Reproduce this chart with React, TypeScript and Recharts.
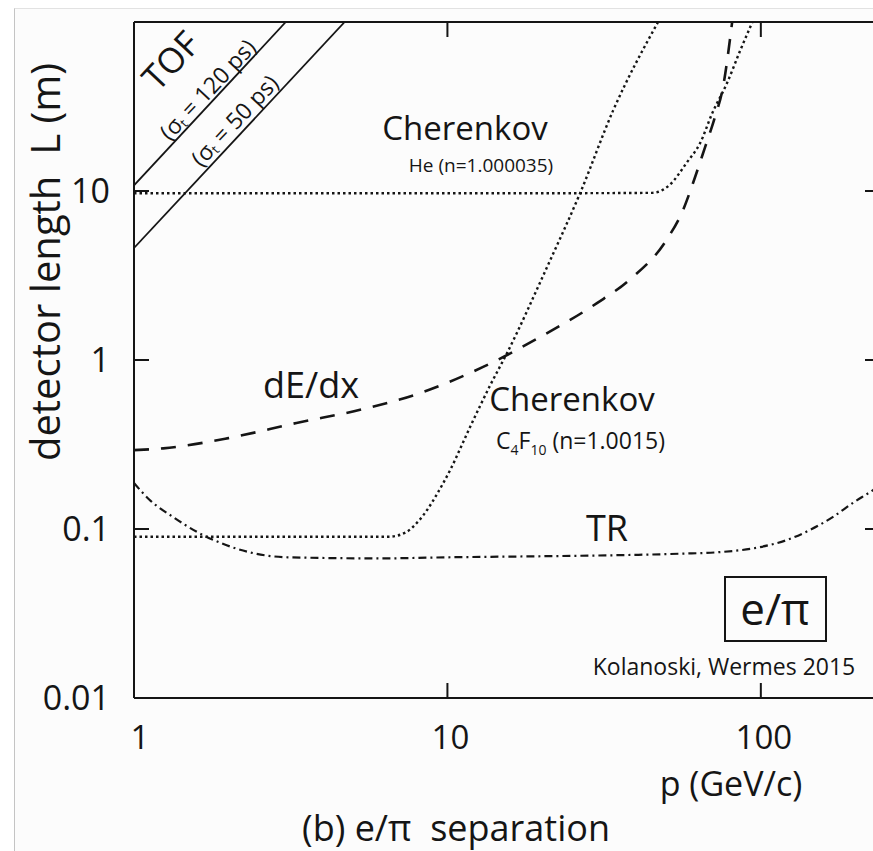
import { LineChart, Line, XAxis, YAxis, ReferenceLine } from 'recharts'

// momentum p (GeV/c) and detector length L (m)
const tof120P = [1, 3.05]
const tof120L = [10.8, 100]

const tof50P = [1, 4.7]
const tof50L = [4.6, 100]

const cherHeP = [1, 20, 45, 51, 58, 64, 70, 78, 86, 94]
const cherHeL = [9.7, 9.7, 9.75, 10.8, 14.7, 19.2, 28.9, 43.5, 68, 100]

const cherC4P = [1, 6.5, 7.4, 8.0, 8.6, 9.3, 10.2, 11.8, 13.7, 15.5, 20.8, 26.5, 33.8, 47]
const cherC4L = [0.09, 0.09, 0.096, 0.109, 0.129, 0.163, 0.223, 0.4, 0.71, 1.1, 3.55, 9.7, 30, 100]

const dedxP = [1, 1.24, 2.0, 3.3, 5.4, 8.2, 13, 19.8, 30, 38, 50, 56.5, 61.7, 66.4, 71.4, 75.7, 81]
const dedxL = [0.293, 0.3, 0.345, 0.424, 0.513, 0.638, 0.91, 1.37, 2.17, 2.97, 5.13, 7.73, 12.1, 18.2, 27.4, 41, 100]

const trP = [1, 1.12, 1.33, 1.59, 1.88, 2.4, 3.1, 6.1, 10, 20, 35, 55, 74, 99, 121, 144, 170, 197, 228, 240]
const trL = [0.187, 0.149, 0.118, 0.096, 0.083, 0.072, 0.068, 0.067, 0.068, 0.069, 0.07, 0.0714, 0.073, 0.078, 0.086, 0.099, 0.118, 0.143, 0.17, 0.182]

const xTicks = [1, 10, 100]
const yTicks = [0.01, 0.1, 1, 10]

const toRows = (p: number[], l: number[]) => p.map((v, i) => ({ p: v, L: l[i] }))

const FONT = "'Open Sans', sans-serif"
const INK = '#151515'
const TOP = 22
const LEFT = 134
const RIGHT = 880
const TICK = 15

function XTick({ x, y, payload }: any) {
  const v = payload.value
  return (
    <g>
      {v !== 1 && <line x1={x} x2={x} y1={y} y2={y - TICK} stroke={INK} strokeWidth={2} />}
      {v !== 1 && <line x1={x} x2={x} y1={TOP} y2={TOP + TICK} stroke={INK} strokeWidth={2} />}
      <text x={v === 1 ? x + 6 : x + 3} y={y + 51} textAnchor="middle" fontSize={33} fontWeight={500} fill={INK} fontFamily={FONT}>
        {v}
      </text>
    </g>
  )
}

function YTick({ x, y, payload }: any) {
  const v = payload.value
  return (
    <g>
      {v !== 0.01 && <line x1={x} x2={x + TICK} y1={y} y2={y} stroke={INK} strokeWidth={2} />}
      {v !== 0.01 && <line x1={RIGHT - TICK} x2={RIGHT} y1={y} y2={y} stroke={INK} strokeWidth={2} />}
      <text x={110} y={y + 12} textAnchor="end" fontSize={34} fontWeight={500} fill={INK} fontFamily={FONT}>
        {v}
      </text>
    </g>
  )
}

function Labels() {
  const t = { fill: INK, fontFamily: FONT, fontWeight: 500, style: { whiteSpace: 'pre' as const } }
  return (
    <svg width={873} height={851} style={{ position: 'absolute', left: 0, top: 0, pointerEvents: 'none' }}>
      <g transform="translate(170,60) rotate(-46.8)">
        <text {...t} fontSize={35} textAnchor="middle" dominantBaseline="central">TOF</text>
      </g>
      <g transform="translate(207,89) rotate(-46.8)">
        <text {...t} fontSize={23} textAnchor="middle" dominantBaseline="central">
          (σ<tspan fontSize={13} dy={6}>t</tspan><tspan dy={-6}> = 120 ps)</tspan>
        </text>
      </g>
      <g transform="translate(234,120) rotate(-46.8)">
        <text {...t} fontSize={23} textAnchor="middle" dominantBaseline="central">
          (σ<tspan fontSize={13} dy={6}>t</tspan><tspan dy={-6}> = 50 ps)</tspan>
        </text>
      </g>

      <text {...t} x={465} y={140} fontSize={33} textAnchor="middle">Cherenkov</text>
      <text {...t} x={481} y={172} fontSize={19} textAnchor="middle">He (n=1.000035)</text>

      <text {...t} x={311} y={398} fontSize={36} textAnchor="middle">dE/dx</text>

      <text {...t} x={572} y={411} fontSize={33} textAnchor="middle">Cherenkov</text>
      <text {...t} x={496} y={449} fontSize={23}>
        C<tspan fontSize={14} dy={6}>4</tspan><tspan dy={-6}>F</tspan><tspan fontSize={14} dy={6}>10</tspan>
        <tspan dy={-6}> (n=1.0015)</tspan>
      </text>

      <text {...t} x={607} y={541} fontSize={36} textAnchor="middle">TR</text>

      <rect x={725} y={577} width={101} height={64} fill="none" stroke={INK} strokeWidth={2} />
      <text {...t} x={775} y={625} fontSize={44} textAnchor="middle">e/π</text>
      <text {...t} x={724} y={675} fontSize={23} textAnchor="middle">Kolanoski, Wermes 2015</text>

      <text {...t} x={731} y={796} fontSize={34} textAnchor="middle">p (GeV/c)</text>
      <text {...t} x={456} y={841} fontSize={36} textAnchor="middle">(b) e/π  separation</text>

      <g transform="translate(44,262) rotate(-90)">
        <text {...t} fontSize={40} textAnchor="middle" dominantBaseline="central">detector length  L (m)</text>
      </g>
    </svg>
  )
}

export default function App() {
  const stroke = { stroke: INK, dot: false, isAnimationActive: false }
  return (
    <div style={{ position: 'fixed', left: 0, top: 0, width: 873, height: 851, overflow: 'hidden', background: '#fff' }}>
      <div
        style={{
          position: 'absolute',
          left: 14,
          top: 8,
          width: 900,
          height: 900,
          background: '#fcfcfc',
          borderLeft: '1px solid #c4c4c4',
          borderTop: '1px solid #e2e2e2',
        }}
      />
      <div style={{ position: 'absolute', left: 0, top: 0 }}>
        <LineChart width={900} height={851} margin={{ top: TOP, left: LEFT - 60, right: 900 - RIGHT, bottom: 123 }}>
          <XAxis
            type="number"
            dataKey="p"
            scale="log"
            domain={[1, 240]}
            allowDataOverflow
            ticks={xTicks}
            tickSize={0}
            tickMargin={0}
            tick={<XTick />}
            height={30}
            axisLine={{ stroke: INK, strokeWidth: 2 }}
            tickLine={false}
          />
          <YAxis
            type="number"
            dataKey="L"
            scale="log"
            domain={[0.01, 100]}
            allowDataOverflow
            ticks={yTicks}
            tickSize={0}
            tickMargin={0}
            tick={<YTick />}
            width={60}
            axisLine={{ stroke: INK, strokeWidth: 2 }}
            tickLine={false}
          />
          <ReferenceLine y={100} stroke={INK} strokeWidth={2} />
          <ReferenceLine x={240} stroke={INK} strokeWidth={2} />

          <Line data={toRows(tof120P, tof120L)} dataKey="L" type="linear" strokeWidth={1.8} {...stroke} />
          <Line data={toRows(tof50P, tof50L)} dataKey="L" type="linear" strokeWidth={1.8} {...stroke} />
          <Line data={toRows(cherHeP, cherHeL)} dataKey="L" type="monotone" strokeWidth={2.4} strokeDasharray="2.5 3" {...stroke} />
          <Line data={toRows(cherC4P, cherC4L)} dataKey="L" type="monotone" strokeWidth={2.4} strokeDasharray="2.5 3" {...stroke} />
          <Line data={toRows(dedxP, dedxL)} dataKey="L" type="monotone" strokeWidth={2.6} strokeDasharray="15 12" {...stroke} />
          <Line data={toRows(trP, trL)} dataKey="L" type="monotone" strokeWidth={2.2} strokeDasharray="8 4 2 4" {...stroke} />
        </LineChart>
      </div>
      <Labels />
    </div>
  )
}
